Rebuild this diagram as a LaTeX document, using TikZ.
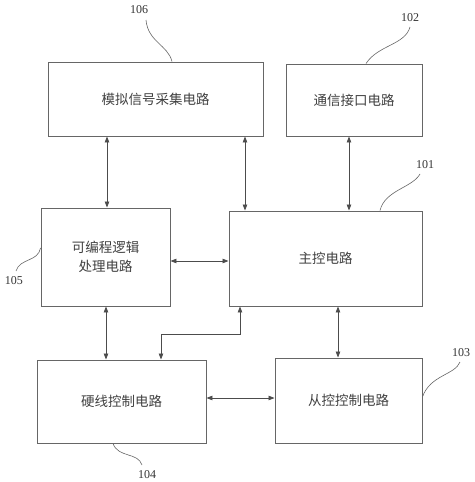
\documentclass[tikz,border=0pt]{standalone}
\usepackage{fontspec}
\setmainfont{Liberation Serif}
\newfontfamily\cjk{Noto Sans CJK SC}
\usetikzlibrary{arrows.meta}
\begin{document}
\begin{tikzpicture}[x=1pt,y=-1pt,
  blk/.style={draw=black!60,line width=0.9pt,inner sep=0pt,font=\cjk\fontsize{13.5}{19}\selectfont,text=black!75,align=center},
  link/.style={draw=black!70,line width=0.8pt,{Triangle[length=6pt,width=4.5pt]}-{Triangle[length=6pt,width=4.5pt]}},
  lead/.style={draw=black!60,line width=0.6pt},
  num/.style={font=\fontsize{12}{14}\selectfont,text=black!80,inner sep=0pt}]
\useasboundingbox (0,0) rectangle (474,482);
% blocks
\node[blk,minimum width=215pt,minimum height=74pt] (b106) at (155.5,99) {模拟信号采集电路};
\node[blk,minimum width=136pt,minimum height=72pt] (b102) at (354,100) {通信接口电路};
\node[blk,minimum width=129pt,minimum height=98pt] (b105) at (105.5,257) {可编程逻辑\\处理电路};
\node[blk,minimum width=193pt,minimum height=95pt] (b101) at (325.5,258.5) {主控电路};
\node[blk,minimum width=169pt,minimum height=83pt] (b104) at (121.5,401.5) {硬线控制电路};
\node[blk,minimum width=147pt,minimum height=85pt] (b103) at (348.5,400.5) {从控控制电路};
% connectors
\draw[link] (b106.south -| 107,0) -- (b105.north -| 107,0);
\draw[link] (b106.south -| 245,0) -- (b101.north -| 245,0);
\draw[link] (b102.south -| 349,0) -- (b101.north -| 349,0);
\draw[link] (b105.east |- 0,261) -- (b101.west |- 0,261);
\draw[link] (b105.south -| 106,0) -- (b104.north -| 106,0);
\draw[link] (b101.south -| 240,0) -- (240,334) -- (161,334) -- (b104.north -| 161,0);
\draw[link] (b101.south -| 338,0) -- (b103.north -| 338,0);
\draw[link] (b104.east |- 0,398) -- (b103.west |- 0,398);
% reference numerals
\node[num] (n106) at (139,10) {106};
\node[num] (n102) at (410,18) {102};
\node[num] (n101) at (425,165) {101};
\node[num] (n105) at (14,281) {105};
\node[num] (n103) at (461,353) {103};
\node[num] (n104) at (147,475) {104};
\draw[lead] (b106.north -| 172,0) .. controls (168,45) and (148,42) .. (146,20);
\draw[lead] (b102.north -| 366,0) .. controls (378,45) and (405,45) .. (410,27);
\draw[lead] (b101.north -| 380,0) .. controls (385,190) and (412,188) .. (420,174);
\draw[lead] (b105.west |- 0,248) .. controls (38,262) and (20,258) .. (16,271);
\draw[lead] (b103.east |- 0,397) .. controls (430,375) and (455,375) .. (460,362);
\draw[lead] (b104.south -| 113,0) .. controls (118,458) and (138,452) .. (142,465);
\end{tikzpicture}
\end{document}
